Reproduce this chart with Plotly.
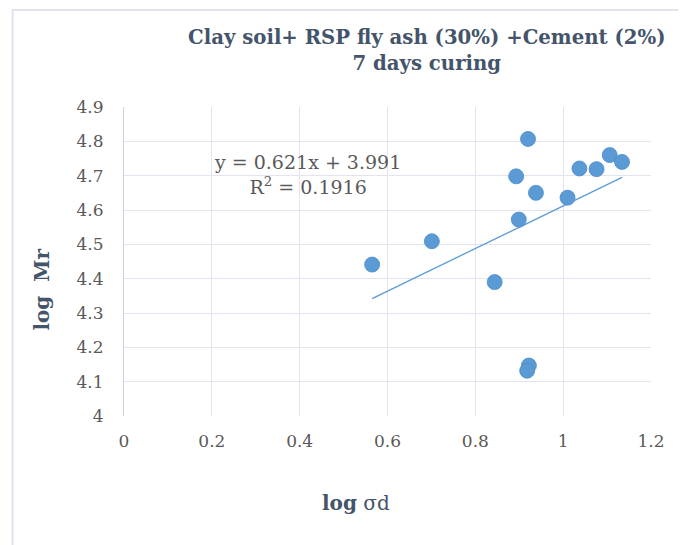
import plotly.graph_objects as go

# data
log_sigma_d = [0.565, 0.701, 0.844, 0.893, 0.899, 0.920, 0.938, 1.010, 1.037, 1.076, 1.106, 1.134, 0.922, 0.918]
log_mr = [4.441, 4.509, 4.390, 4.698, 4.572, 4.807, 4.650, 4.636, 4.721, 4.719, 4.760, 4.740, 4.147, 4.132]
slope = 0.621
intercept = 3.991
r_squared = 0.1916
x_ticks = [0, 0.2, 0.4, 0.6, 0.8, 1, 1.2]
y_ticks = [4, 4.1, 4.2, 4.3, 4.4, 4.5, 4.6, 4.7, 4.8, 4.9]

blue = "#5b9bd5"
title_color = "#44546a"
serif = "DejaVu Serif"
tick_font = dict(family=serif, size=17, color="#595959")

# page offset (body margin) and plot-area geometry in screen pixels
OFF = 8
L, T, W, H = 124.3, 107.0, 526.4, 309.0
FW, FH = 686, 545


def px(x):
    return (x - L) / W


def py(y):
    return (T + H - y) / H


x_min, x_max = min(log_sigma_d), max(log_sigma_d)
trend_x = [x_min, x_max]
trend_y = [slope * v + intercept for v in trend_x]

fig = go.Figure()
fig.add_trace(go.Scatter(x=trend_x, y=trend_y, mode="lines",
                         line=dict(color=blue, width=1.3), hoverinfo="skip"))
fig.add_trace(go.Scatter(x=log_sigma_d, y=log_mr, mode="markers",
                         marker=dict(color=blue, size=15, line=dict(color="#4a8ccc", width=0.8))))

fig.update_layout(
    width=FW, height=FH,
    margin=dict(l=L - OFF, r=FW - (L - OFF) - W, t=T - OFF, b=FH - (T - OFF) - H),
    paper_bgcolor="white", plot_bgcolor="white",
    showlegend=False,
    xaxis=dict(range=[0, 1.2], tickvals=x_ticks, ticktext=[str(v) for v in x_ticks],
               showgrid=True, gridcolor="#e4e4ee", gridwidth=1.2,
               zeroline=False, showline=False, ticks="",
               tickfont=tick_font, ticklabelstandoff=13),
    yaxis=dict(range=[4, 4.9], tickvals=y_ticks, ticktext=[str(v) for v in y_ticks],
               showgrid=True, gridcolor="#e4e4ee", gridwidth=1.2,
               zeroline=False, showline=True, linecolor="#c9d1e3", linewidth=1.2, ticks="",
               tickfont=tick_font, ticklabelstandoff=16),
)

# chart title
fig.add_annotation(x=px(427), y=py(51), xref="paper", yref="paper",
                   text="<b>Clay soil+ RSP fly ash (30%) +Cement (2%)<br>7 days curing</b>",
                   showarrow=False, xanchor="center", yanchor="middle", align="center",
                   font=dict(family=serif, size=19.7, color=title_color))
# axis titles
fig.add_annotation(x=px(356), y=py(503), xref="paper", yref="paper",
                   text="<b>log</b> σd", showarrow=False, xanchor="center", yanchor="middle",
                   font=dict(family=serif, size=20, color=title_color))
fig.add_annotation(x=px(42), y=py(290), xref="paper", yref="paper",
                   text="<b>log  Mr</b>", showarrow=False, xanchor="center", yanchor="middle",
                   textangle=-90, font=dict(family=serif, size=20, color=title_color))
# trendline equation
fig.add_annotation(
    x=px(308), y=py(174), xref="paper", yref="paper",
    text=f"y = {slope}x + {intercept}<br>R<sup>2</sup> = {r_squared}",
    showarrow=False, xanchor="center", yanchor="middle", align="center",
    font=dict(family=serif, size=19, color="#595959"))

fig.add_shape(type="rect", xref="paper", yref="paper",
              x0=px(13), x1=px(680), y0=py(600), y1=py(10),
              line=dict(color="#e3e3ee", width=2), layer="below")

fig.write_html("out.html")
